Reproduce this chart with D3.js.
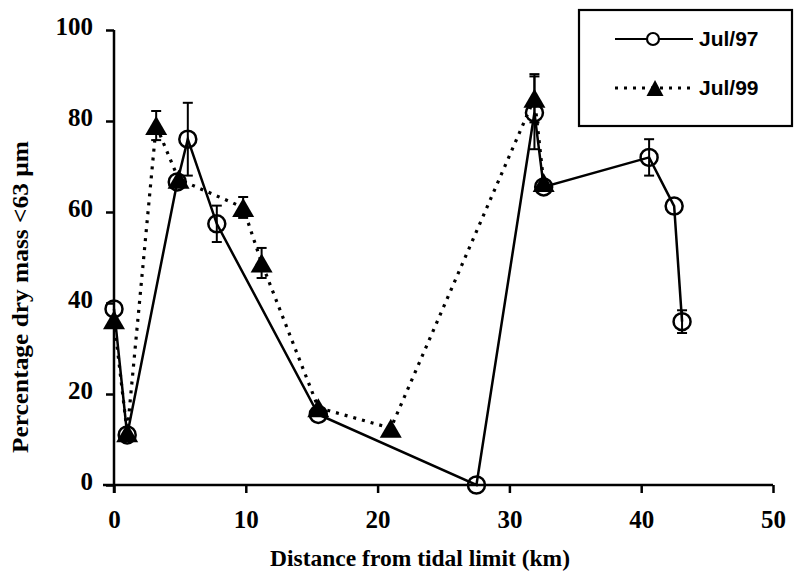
<!DOCTYPE html>
<html><head><meta charset="utf-8">
<script src="https://cdn.jsdelivr.net/npm/d3@7"></script>
<style>body{margin:0;background:#fff}svg{display:block}</style>
</head><body>
<script>
// Data
const jul97Km   = [0, 1.0, 4.8, 5.6, 7.8, 15.5, 27.5, 31.9, 32.6, 40.6, 42.5, 43.1];
const jul97Pct  = [38.7, 11.0, 66.6, 76.0, 57.4, 15.5, 0, 81.8, 65.5, 72.0, 61.3, 35.9];
const jul97Err  = [0, 0, 0, 8, 4, 0, 0, 8, 0, 4, 0, 2.5];
const jul99Km   = [0, 1.0, 3.2, 4.9, 9.8, 11.2, 15.5, 21.0, 31.9, 32.6];
const jul99Pct  = [36.3, 11.5, 79.0, 67.2, 61.0, 48.8, 17.0, 12.5, 85.0, 66.5];
const jul99Err  = [0, 0, 3.2, 0, 2.3, 3.3, 0, 0, 5.3, 0];
const xTicks = [0, 10, 20, 30, 40, 50];
const yTicks = [0, 20, 40, 60, 80, 100];
const seriesNames = ["Jul/97", "Jul/99"];

const W = 794, H = 576;
const svg = d3.select("body").append("svg").attr("width", W).attr("height", H);
const x = d3.scaleLinear().domain([0, 50]).range([114, 773]);
const y = d3.scaleLinear().domain([0, 100]).range([485, 30]);
const serif = "'Liberation Serif','Times New Roman',serif";
const sans = "'Liberation Sans',Arial,sans-serif";

// Axes
const xAxis = svg.append("g").attr("transform", `translate(0,${y(0)})`)
  .call(d3.axisBottom(x).tickValues(xTicks).tickSize(8).tickPadding(16).tickSizeOuter(0));
const yAxis = svg.append("g").attr("transform", `translate(${x(0)},0)`)
  .call(d3.axisLeft(y).tickValues(yTicks).tickSize(8).tickPadding(13).tickSizeOuter(0));
[xAxis, yAxis].forEach(g => {
  g.select(".domain").attr("stroke", "#000").attr("stroke-width", 2.5);
  g.selectAll(".tick line").attr("stroke", "#000").attr("stroke-width", 2.5);
  g.selectAll("text").attr("font-family", serif).attr("font-weight", "bold")
    .attr("font-size", 25).attr("fill", "#000");
});
xAxis.select(".domain").attr("d", `M${x(0) - 11},0H${x(50)}`);
yAxis.select(".domain").attr("d", `M0,${y(0) + 8}V${y(100)}`);
yAxis.selectAll("text").attr("dy", "0.17em");
xAxis.selectAll("text").attr("dy", "0.75em");

// Axis titles
svg.append("text").attr("x", 420).attr("y", 566).attr("text-anchor", "middle")
  .attr("font-family", serif).attr("font-weight", "bold").attr("font-size", 24)
  .attr("textLength", 300).attr("lengthAdjust", "spacingAndGlyphs")
  .text("Distance from tidal limit (km)");
svg.append("text").attr("transform", "translate(28,297) rotate(-90)").attr("text-anchor", "middle")
  .attr("font-family", serif).attr("font-weight", "bold").attr("font-size", 24)
  .attr("textLength", 312).attr("lengthAdjust", "spacingAndGlyphs")
  .text("Percentage dry mass <63 µm");

const d97 = jul97Km.map((k, i) => ({k, v: jul97Pct[i], e: jul97Err[i]}));
const d99 = jul99Km.map((k, i) => ({k, v: jul99Pct[i], e: jul99Err[i]}));
const line = d3.line().x(d => x(d.k)).y(d => y(d.v));

// Jul/99 dotted line
svg.append("path").datum(d99).attr("d", line).attr("fill", "none").attr("stroke", "#000")
  .attr("stroke-width", 3.2).attr("stroke-dasharray", "3,6");
// Jul/97 solid line
svg.append("path").datum(d97).attr("d", line).attr("fill", "none").attr("stroke", "#000")
  .attr("stroke-width", 2.5);

// Error bars
function errBars(data) {
  const g = svg.append("g").attr("stroke", "#000").attr("stroke-width", 2);
  data.filter(d => d.e > 0).forEach(d => {
    const cx = x(d.k), t = y(d.v + d.e), b = y(d.v - d.e);
    g.append("line").attr("x1", cx).attr("x2", cx).attr("y1", t).attr("y2", b);
    g.append("line").attr("x1", cx - 5).attr("x2", cx + 5).attr("y1", t).attr("y2", t);
    g.append("line").attr("x1", cx - 5).attr("x2", cx + 5).attr("y1", b).attr("y2", b);
  });
}
errBars(d99);
errBars(d97);

// Triangles
const tri = (cx, cy, w, h) => `M${cx - w / 2},${cy + h / 2}L${cx},${cy - h / 2}L${cx + w / 2},${cy + h / 2}Z`;
svg.append("g").selectAll("path").data(d99).join("path")
  .attr("d", d => tri(x(d.k), y(d.v), 22, 19)).attr("fill", "#000");
// Circles
svg.append("g").selectAll("circle").data(d97).join("circle")
  .attr("cx", d => x(d.k)).attr("cy", d => y(d.v)).attr("r", 8.5)
  .attr("fill", "none").attr("stroke", "#000").attr("stroke-width", 2.5);

// Legend
const lg = svg.append("g");
lg.append("rect").attr("x", 579).attr("y", 10).attr("width", 213).attr("height", 116)
  .attr("fill", "#fff").attr("stroke", "#000").attr("stroke-width", 2.2);
lg.append("line").attr("x1", 615).attr("x2", 693).attr("y1", 39).attr("y2", 39)
  .attr("stroke", "#000").attr("stroke-width", 2);
lg.append("circle").attr("cx", 653).attr("cy", 39).attr("r", 6)
  .attr("fill", "#fff").attr("stroke", "#000").attr("stroke-width", 2.2);
lg.append("line").attr("x1", 615).attr("x2", 693).attr("y1", 88).attr("y2", 88)
  .attr("stroke", "#000").attr("stroke-width", 3).attr("stroke-dasharray", "3,6");
lg.append("path").attr("d", tri(655, 88, 17, 16)).attr("fill", "#000");
lg.selectAll("text.lab").data(seriesNames).join("text").attr("class", "lab")
  .attr("x", 699).attr("y", (d, i) => [46, 95][i])
  .attr("font-family", sans).attr("font-weight", "bold").attr("font-size", 21)
  .text(d => d);
</script>
</body></html>
